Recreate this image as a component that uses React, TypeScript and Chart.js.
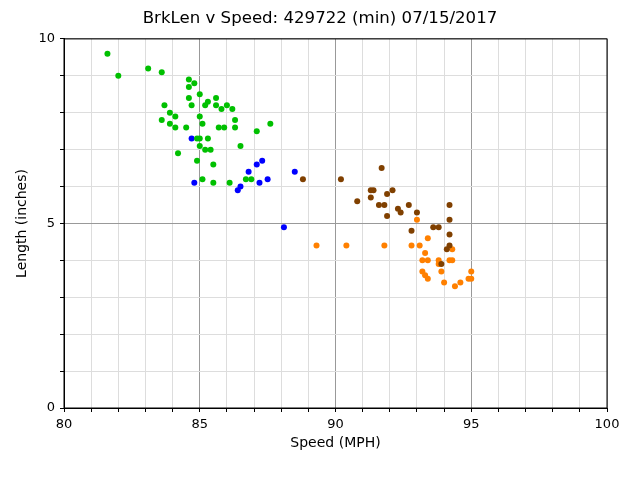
import { useEffect, useRef } from 'react'
import { Chart, registerables, type ChartConfiguration, type Plugin } from 'chart.js'

Chart.register(...registerables)

const TITLE = 'BrkLen v Speed: 429722 (min) 07/15/2017'

// speed (MPH) / length (inches), one pair of arrays per colour group
const greenSpeed = [
  81.6, 82.0, 83.1, 83.6, 84.6, 84.8, 84.6, 85.0, 84.6, 85.6, 84.7, 83.7, 85.2, 85.3, 85.6, 85.8,
  86.0, 86.2, 83.9, 84.1, 85.0, 83.6, 86.3, 83.9, 85.1, 87.6, 84.1, 84.5, 85.7, 85.9, 86.3, 87.1,
  84.9, 85.0, 85.3, 85.0, 86.5, 85.2, 85.4, 84.2, 84.9, 85.5, 85.1, 86.7, 86.9, 85.5, 86.1,
]
const greenLength = [
  9.6, 9.0, 9.2, 9.1, 8.9, 8.8, 8.7, 8.5, 8.4, 8.4, 8.2, 8.2, 8.2, 8.3, 8.2, 8.1,
  8.2, 8.1, 8.0, 7.9, 7.9, 7.8, 7.8, 7.7, 7.7, 7.7, 7.6, 7.6, 7.6, 7.6, 7.6, 7.5,
  7.3, 7.3, 7.3, 7.1, 7.1, 7.0, 7.0, 6.9, 6.7, 6.6, 6.2, 6.2, 6.2, 6.1, 6.1,
]

const blueSpeed = [84.7, 87.3, 87.1, 86.8, 88.5, 87.5, 84.8, 87.2, 86.5, 86.4, 88.1]
const blueLength = [7.3, 6.7, 6.6, 6.4, 6.4, 6.2, 6.1, 6.1, 6.0, 5.9, 4.9]

const brownSpeed = [
  88.8, 90.2, 91.7, 91.3, 91.4, 91.3, 91.9, 92.1, 90.8, 91.6, 91.8, 92.3, 92.4,
  91.9, 92.7, 93.0, 94.2, 94.2, 93.6, 93.8, 92.8, 94.2, 94.2, 94.1, 93.9,
]
const brownLength = [
  6.2, 6.2, 6.5, 5.9, 5.9, 5.7, 5.8, 5.9, 5.6, 5.5, 5.5, 5.4, 5.3,
  5.2, 5.5, 5.3, 5.5, 5.1, 4.9, 4.9, 4.8, 4.7, 4.4, 4.3, 3.9,
]

const orangeSpeed = [
  93.0, 89.3, 90.4, 91.8, 92.8, 93.1, 93.4, 93.3, 93.2, 93.4, 93.8, 93.8, 94.2,
  94.3, 94.3, 93.9, 93.2, 93.3, 93.4, 94.0, 94.4, 94.6, 95.0, 94.9, 95.0,
]
const orangeLength = [
  5.1, 4.4, 4.4, 4.4, 4.4, 4.4, 4.6, 4.2, 4.0, 4.0, 4.0, 3.9, 4.0,
  4.0, 4.3, 3.7, 3.7, 3.6, 3.5, 3.4, 3.3, 3.4, 3.7, 3.5, 3.5,
]

const toPoints = (xs: number[], ys: number[]) => xs.map((x, i) => ({ x, y: ys[i] }))

const FONT = 'DejaVu Sans'

// black frame on all four sides of the plot area
const framePlugin: Plugin<'scatter'> = {
  id: 'frame',
  afterDraw(chart) {
    const { ctx, chartArea } = chart
    ctx.save()
    ctx.strokeStyle = '#000'
    ctx.lineWidth = 1
    ctx.strokeRect(chartArea.left, chartArea.top, chartArea.right - chartArea.left, chartArea.bottom - chartArea.top)
    ctx.restore()
  },
}

const gridColor = (major: number) => (ctx: any) =>
  ctx.tick && ctx.tick.value % major === 0 ? '#999999' : '#dddddd'

export default function App() {
  const chartRef = useRef<HTMLCanvasElement>(null)
  const chartInstance = useRef<Chart | null>(null)

  useEffect(() => {
    if (!chartRef.current) return
    chartInstance.current?.destroy()
    const ctx = chartRef.current.getContext('2d')
    if (!ctx) return

    const pointStyle = { pointRadius: 3, borderWidth: 0, pointHoverRadius: 3 }

    const config: ChartConfiguration<'scatter'> = {
      type: 'scatter',
      data: {
        datasets: [
          { label: 'green', data: toPoints(greenSpeed, greenLength), backgroundColor: '#00c000', ...pointStyle },
          { label: 'blue', data: toPoints(blueSpeed, blueLength), backgroundColor: '#0000ff', ...pointStyle },
          { label: 'brown', data: toPoints(brownSpeed, brownLength), backgroundColor: '#804000', ...pointStyle },
          { label: 'orange', data: toPoints(orangeSpeed, orangeLength), backgroundColor: '#ff8000', ...pointStyle },
        ],
      },
      options: {
        animation: false,
        responsive: true,
        maintainAspectRatio: false,
        layout: { padding: 0 },
        scales: {
          x: {
            type: 'linear',
            min: 80,
            max: 100,
            afterFit: (scale) => { scale.height = 72 },
            ticks: {
              stepSize: 1,
              autoSkip: false,
              maxRotation: 0,
              padding: 5,
              color: '#000',
              font: { family: FONT, size: 13 },
              callback: (v) => (Number(v) % 5 === 0 ? String(v) : ''),
            },
            grid: { color: gridColor(5), tickColor: '#000', tickLength: 4 },
            border: { color: '#000' },
            title: {
              display: true,
              text: 'Speed (MPH)',
              color: '#000',
              font: { family: FONT, size: 14 },
              padding: { top: 28, bottom: 28 },
            },
          },
          y: {
            type: 'linear',
            min: 0,
            max: 10,
            afterFit: (scale) => { scale.width = 64 },
            ticks: {
              stepSize: 1,
              autoSkip: false,
              padding: 5,
              color: '#000',
              font: { family: FONT, size: 13 },
              callback: (v) => (Number(v) % 5 === 0 ? String(v) : ''),
            },
            grid: { color: gridColor(5), tickColor: '#000', tickLength: 4 },
            border: { color: '#000' },
            title: {
              display: true,
              text: 'Length (inches)',
              color: '#000',
              font: { family: FONT, size: 14 },
              padding: { top: 14, bottom: 14 },
            },
          },
          // empty right-hand strip, so the title stays centred on the whole canvas
          yRight: {
            type: 'linear',
            position: 'right',
            afterFit: (scale) => { scale.width = 33 },
            ticks: { display: false },
            grid: { display: false },
            border: { display: false },
          },
        },
        plugins: {
          legend: { display: false },
          tooltip: { enabled: false },
          title: {
            display: true,
            text: TITLE,
            color: '#000',
            font: { family: FONT, size: 16.6, weight: 'normal' },
            padding: { top: 9, bottom: 10 },
          },
        },
      },
      plugins: [framePlugin],
    }

    chartInstance.current = new Chart(ctx, config)
    return () => {
      chartInstance.current?.destroy()
    }
  }, [])

  return (
    <div style={{ position: 'fixed', left: 0, top: 0, width: 640, height: 480 }}>
      <canvas ref={chartRef} />
    </div>
  )
}
